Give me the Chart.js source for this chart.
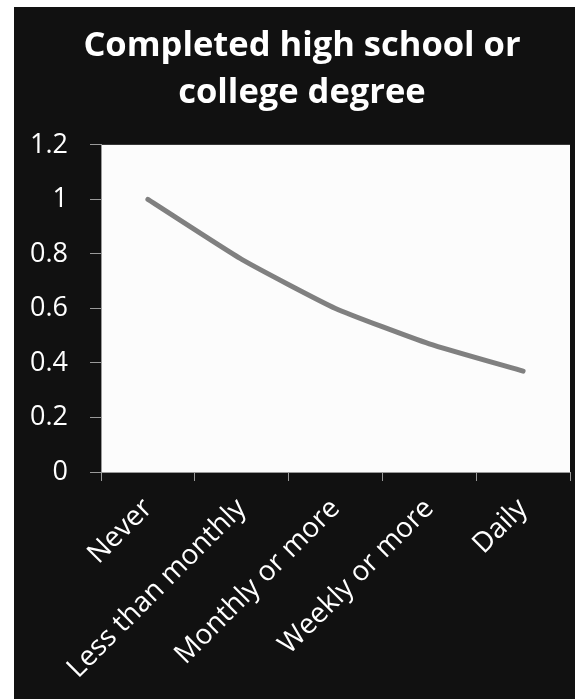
<!DOCTYPE html>
<html>
<head>
<meta charset="utf-8">
<script src="https://cdn.jsdelivr.net/npm/chart.js@4/dist/chart.umd.min.js"></script>
<style>
  html, body { margin: 0; padding: 0; background: #ffffff; }
  #wrap { position: relative; width: 575px; height: 699px; }
</style>
</head>
<body>
<div id="wrap"><canvas id="chart" width="575" height="699"></canvas></div>
<script>
// Frequency categories and the share for each
const categories = ['Never', 'Less than monthly', 'Monthly or more', 'Weekly or more', 'Daily'];
const shareValues = [1.0, 0.78, 0.60, 0.47, 0.37];
const yTicks = [0, 0.2, 0.4, 0.6, 0.8, 1, 1.2];
const titleLines = ['Completed high school or', 'college degree'];

// Page frame: white margin with a black panel, white plotting area
const framePlugin = {
  id: 'frame',
  afterLayout(chart) {
    // let the value labels use the full width left of the axis
    chart.scales.y.left = 14;
  },
  beforeDraw(chart) {
    const ctx = chart.ctx;
    ctx.save();
    ctx.fillStyle = '#ffffff';
    ctx.fillRect(0, 0, chart.width, chart.height);
    ctx.fillStyle = '#111111';
    ctx.fillRect(14, 7, chart.width - 14, chart.height - 7);
    const a = chart.chartArea;
    ctx.fillStyle = '#fcfcfc';
    ctx.fillRect(a.left, a.top, a.right - a.left, a.bottom - a.top);
    ctx.restore();
  }
};

new Chart(document.getElementById('chart'), {
  type: 'line',
  data: {
    labels: categories,
    datasets: [{
      data: shareValues,
      borderColor: '#808080',
      borderWidth: 5,
      borderCapStyle: 'round',
      borderJoinStyle: 'round',
      tension: 0.15,
      pointRadius: 0,
      fill: false
    }]
  },
  options: {
    responsive: false,
    animation: false,
    devicePixelRatio: 1,
    layout: { padding: { left: 34, right: 5, top: 0, bottom: 0 } },
    plugins: {
      legend: { display: false },
      tooltip: { enabled: false },
      title: {
        display: true,
        text: titleLines,
        color: '#ffffff',
        font: { family: 'Open Sans', size: 34.5, weight: 'bold', lineHeight: 1.36 },
        padding: { top: 23, bottom: 28 }
      }
    },
    scales: {
      x: {
        type: 'category',
        offset: true,
        grid: {
          display: true,
          offset: true,
          drawOnChartArea: false,
          drawTicks: true,
          tickLength: 9,
          color: '#9a9a9a'
        },
        border: { display: true, color: '#9a9a9a', width: 1 },
        ticks: {
          color: '#ffffff',
          font: { family: 'Open Sans', size: 28 },
          minRotation: 45,
          maxRotation: 45,
          padding: 11,
          autoSkip: false
        },
        afterFit(scale) { scale.height = 227; }
      },
      y: {
        min: 0,
        max: 1.2,
        afterBuildTicks(scale) { scale.ticks = yTicks.map(v => ({ value: v })); },
        grid: {
          display: true,
          drawOnChartArea: false,
          drawTicks: true,
          tickLength: 11,
          color: '#9a9a9a'
        },
        border: { display: true, color: '#9a9a9a', width: 1 },
        ticks: {
          color: '#ffffff',
          font: { family: 'Open Sans', size: 27 },
          padding: 22,
          callback(value) { return String(Math.round(value * 10) / 10); }
        },
        afterFit(scale) { scale.width = 67; }
      }
    }
  },
  plugins: [framePlugin]
});
</script>
</body>
</html>
